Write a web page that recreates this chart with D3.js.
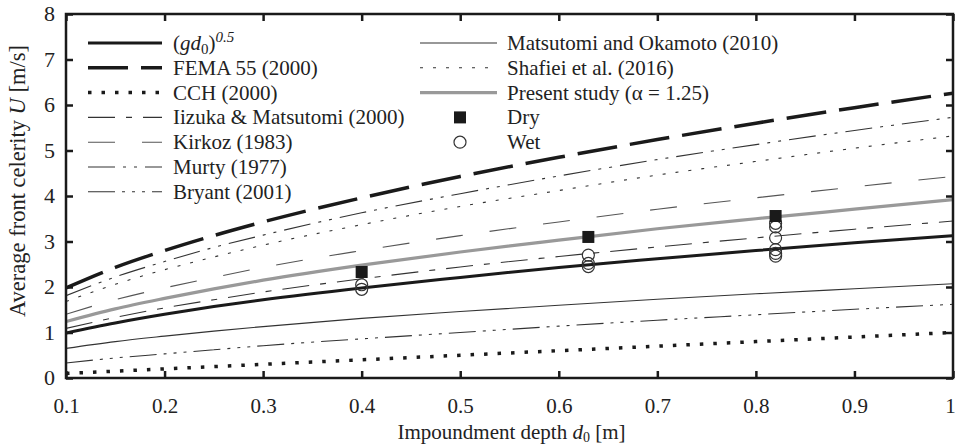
<!DOCTYPE html>
<html>
<head>
<meta charset="utf-8">
<script src="https://cdn.jsdelivr.net/npm/d3@7"></script>
<style>
  body { margin: 0; background: #fff; }
  svg text { font-family: "Liberation Serif", "Times New Roman", "DejaVu Serif", serif; fill: #222; }
</style>
</head>
<body>
<svg id="chart" width="956" height="445"></svg>
<script>
var depths = [0.1, 0.15, 0.2, 0.25, 0.3, 0.4, 0.5, 0.6, 0.7, 0.8, 0.9, 1.0];

var sqrtGd    = [0.99, 1.21, 1.40, 1.57, 1.72, 1.98, 2.21, 2.43, 2.62, 2.80, 2.97, 3.13];
var fema      = [1.98, 2.43, 2.80, 3.13, 3.43, 3.96, 4.43, 4.85, 5.24, 5.60, 5.94, 6.26];
var cch       = [0.10, 0.15, 0.20, 0.25, 0.30, 0.40, 0.50, 0.60, 0.70, 0.80, 0.90, 1.00];
var iizuka    = [1.09, 1.33, 1.54, 1.72, 1.89, 2.18, 2.44, 2.67, 2.88, 3.08, 3.27, 3.45];
var kirkoz    = [1.40, 1.72, 1.98, 2.21, 2.43, 2.80, 3.13, 3.43, 3.71, 3.96, 4.20, 4.43];
var murty     = [1.81, 2.22, 2.56, 2.87, 3.14, 3.63, 4.05, 4.44, 4.80, 5.13, 5.44, 5.73];
var bryant    = [0.33, 0.44, 0.53, 0.62, 0.71, 0.86, 1.00, 1.14, 1.27, 1.39, 1.51, 1.62];
var matsutomi = [0.65, 0.80, 0.92, 1.03, 1.13, 1.31, 1.46, 1.60, 1.73, 1.85, 1.96, 2.07];
var shafiei   = [1.68, 2.06, 2.38, 2.66, 2.92, 3.37, 3.77, 4.12, 4.46, 4.76, 5.05, 5.32];
var present   = [1.24, 1.52, 1.75, 1.96, 2.15, 2.48, 2.77, 3.03, 3.28, 3.50, 3.71, 3.92];

// experiments
var dryD = [0.4, 0.63, 0.82];
var dryU = [2.33, 3.10, 3.56];
var wetD = [0.4, 0.4, 0.63, 0.63, 0.63, 0.82, 0.82, 0.82, 0.82, 0.82, 0.82];
var wetU = [2.05, 1.95, 2.70, 2.52, 2.45, 3.40, 3.32, 3.08, 2.82, 2.74, 2.68];

var xTicks = [0.1, 0.2, 0.3, 0.4, 0.5, 0.6, 0.7, 0.8, 0.9, 1];
var yTicks = [0, 1, 2, 3, 4, 5, 6, 7, 8];

// 線のスタイル
var series = [
    {name: "sqrt",      vals: sqrtGd,    color: "#1a1a1a", w: 3,   dash: null},
    {name: "FEMA 55 (2000)", vals: fema, color: "#1a1a1a", w: 3.5, dash: "40,13"},
    {name: "CCH (2000)", vals: cch,      color: "#1a1a1a", w: 3.5, dash: "3.5,10"},
    {name: "Iizuka & Matsutomi (2000)", vals: iizuka, color: "#333", w: 1.1, dash: "27,11,6,11"},
    {name: "Kirkoz (1983)", vals: kirkoz, color: "#555", w: 1.1, dash: "27,27"},
    {name: "Murty (1977)", vals: murty,   color: "#333", w: 1.1, dash: "27,8,3,8,3,8"},
    {name: "Bryant (2001)", vals: bryant, color: "#333", w: 1.1, dash: "27,7,3,7,3,7,3,7"},
    {name: "Matsutomi and Okamoto (2010)", vals: matsutomi, color: "#333", w: 1.1, dash: null},
    {name: "Shafiei et al. (2016)", vals: shafiei, color: "#333", w: 1.1, dash: "3,10"},
    {name: "present", vals: present,     color: "#999", w: 3.2, dash: null}
];

var svg = d3.select("#chart");
var mLeft = 66, mRight = 953, mTop = 14, mBottom = 378;
var fs = 21;

var x = d3.scaleLinear().domain([0.1, 1]).range([mLeft, mRight]);
var y = d3.scaleLinear().domain([0, 8]).range([mBottom, mTop]);

svg.append("clipPath").attr("id", "plotclip")
    .append("rect")
    .attr("x", mLeft).attr("y", mTop)
    .attr("width", mRight - mLeft).attr("height", mBottom - mTop);

var plot = svg.append("g").attr("clip-path", "url(#plotclip)");

var line = d3.line()
    .x(function(d) { return x(d[0]); })
    .y(function(d) { return y(d[1]); })
    .curve(d3.curveMonotoneX);

series.forEach(function(s) {
    var pts = depths.map(function(d, i) { return [d, s.vals[i]]; });
    plot.append("path")
        .attr("d", line(pts))
        .attr("fill", "none")
        .attr("stroke", s.color)
        .attr("stroke-width", s.w)
        .attr("stroke-dasharray", s.dash);
});

// 実験点
plot.selectAll(".wet")
    .data(wetD)
    .enter().append("circle")
    .attr("class", "wet")
    .attr("cx", function(d) { return x(d); })
    .attr("cy", function(d, i) { return y(wetU[i]); })
    .attr("r", 6)
    .attr("fill", "none")
    .attr("stroke", "#333")
    .attr("stroke-width", 1.2);

plot.selectAll(".dry")
    .data(dryD)
    .enter().append("rect")
    .attr("class", "dry")
    .attr("x", function(d) { return x(d) - 6; })
    .attr("y", function(d, i) { return y(dryU[i]) - 6; })
    .attr("width", 12).attr("height", 12)
    .attr("fill", "#1a1a1a");

// axes (ticks inward on all four sides)
var tickLen = 7;
svg.append("g")
    .attr("transform", "translate(0," + mBottom + ")")
    .call(d3.axisBottom(x).tickValues(xTicks).tickSizeInner(-tickLen).tickSizeOuter(0)
        .tickFormat(function(d) { return d === 1 ? "1" : d3.format(".1f")(d); }))
    .call(function(g) {
        g.select(".domain").remove();
        g.selectAll("line").attr("stroke", "#1a1a1a").attr("stroke-width", 2.5);
        g.selectAll("text").attr("dy", null).attr("y", 35).attr("font-family", null)
            .style("font-size", fs + "px").attr("fill", "#222");
        g.selectAll(".tick:last-of-type text").attr("x", -3);
    });
svg.append("g")
    .attr("transform", "translate(0," + mTop + ")")
    .call(d3.axisTop(x).tickValues(xTicks).tickSizeInner(-tickLen).tickSizeOuter(0).tickFormat(""))
    .call(function(g) {
        g.select(".domain").remove();
        g.selectAll("line").attr("stroke", "#1a1a1a").attr("stroke-width", 2.5);
    });
svg.append("g")
    .attr("transform", "translate(" + mLeft + ",0)")
    .call(d3.axisLeft(y).tickValues(yTicks).tickSizeInner(-tickLen).tickSizeOuter(0).tickFormat(d3.format("d")))
    .call(function(g) {
        g.select(".domain").remove();
        g.selectAll("line").attr("stroke", "#1a1a1a").attr("stroke-width", 2.5);
        g.selectAll("text").attr("x", -11).attr("dy", "0.3em").attr("font-family", null)
            .style("font-size", "22px").attr("fill", "#222");
    });
svg.append("g")
    .attr("transform", "translate(" + mRight + ",0)")
    .call(d3.axisRight(y).tickValues(yTicks).tickSizeInner(-tickLen).tickSizeOuter(0).tickFormat(""))
    .call(function(g) {
        g.select(".domain").remove();
        g.selectAll("line").attr("stroke", "#1a1a1a").attr("stroke-width", 2.5);
    });

svg.append("rect")
    .attr("x", mLeft).attr("y", mTop)
    .attr("width", mRight - mLeft).attr("height", mBottom - mTop)
    .attr("fill", "none")
    .attr("stroke", "#1a1a1a")
    .attr("stroke-width", 2.5);

// axis labels
var xl = svg.append("text")
    .attr("x", (mLeft + mRight) / 2 + 2).attr("y", 439)
    .attr("text-anchor", "middle")
    .style("font-size", fs + "px");
xl.append("tspan").text("Impoundment depth ");
xl.append("tspan").style("font-style", "italic").text("d");
xl.append("tspan").attr("dy", 3).style("font-size", "14px").text("0");
xl.append("tspan").attr("dy", -3).text("  [m]");

var yl = svg.append("text")
    .attr("transform", "translate(25," + ((mTop + mBottom) / 2 - 15) + ") rotate(-90)")
    .attr("text-anchor", "middle")
    .style("font-size", "22.5px");
yl.append("tspan").text("Average front celerity ");
yl.append("tspan").style("font-style", "italic").text("U");
yl.append("tspan").text("  [m/s]");

// 凡例
var legRow = 24.8;
var leg1 = svg.append("g").attr("transform", "translate(88,43)");
var leftItems = series.slice(0, 7);
leftItems.forEach(function(s, i) {
    var g = leg1.append("g").attr("transform", "translate(0," + i * legRow + ")");
    g.append("line")
        .attr("x1", 0).attr("x2", 74).attr("y1", 0).attr("y2", 0)
        .attr("stroke", s.color).attr("stroke-width", s.w)
        .attr("stroke-dasharray", s.dash);
    var t = g.append("text").attr("x", 85).attr("y", 7).style("font-size", fs + "px");
    if (s.name === "sqrt") {
        t.append("tspan").text("(");
        t.append("tspan").style("font-style", "italic").text("gd");
        t.append("tspan").attr("dy", 4).style("font-size", "15px").text("0");
        t.append("tspan").attr("dy", -4).text(")");
        t.append("tspan").attr("dy", -8).style("font-size", "15px").style("font-style", "italic").text("0.5");
    } else {
        t.text(s.name);
    }
});

var leg2 = svg.append("g").attr("transform", "translate(420,43)");
var rightItems = series.slice(7);
rightItems.forEach(function(s, i) {
    var g = leg2.append("g").attr("transform", "translate(0," + i * legRow + ")");
    g.append("line")
        .attr("x1", 0).attr("x2", 77).attr("y1", 0).attr("y2", 0)
        .attr("stroke", s.color).attr("stroke-width", s.w)
        .attr("stroke-dasharray", s.dash);
    g.append("text").attr("x", 87).attr("y", 7).style("font-size", fs + "px")
        .text(s.name === "present" ? "Present study (\u03b1 = 1.25)" : s.name);
});
var gDry = leg2.append("g").attr("transform", "translate(0," + 3 * legRow + ")");
gDry.append("rect").attr("x", 34).attr("y", -6).attr("width", 12).attr("height", 12).attr("fill", "#1a1a1a");
gDry.append("text").attr("x", 87).attr("y", 7).style("font-size", fs + "px").text("Dry");
var gWet = leg2.append("g").attr("transform", "translate(0," + 4 * legRow + ")");
gWet.append("circle").attr("cx", 40).attr("cy", 0).attr("r", 6)
    .attr("fill", "none").attr("stroke", "#333").attr("stroke-width", 1.2);
gWet.append("text").attr("x", 87).attr("y", 7).style("font-size", fs + "px").text("Wet");
</script>
</body>
</html>
